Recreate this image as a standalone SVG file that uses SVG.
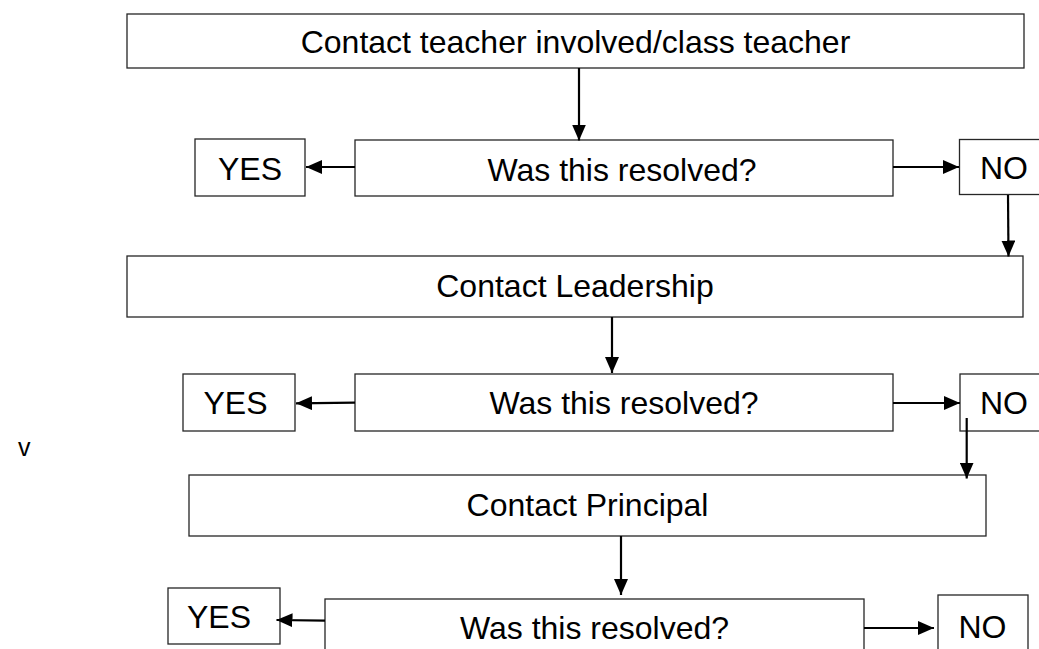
<svg xmlns="http://www.w3.org/2000/svg" width="1039" height="649" viewBox="0 0 1039 649">
<style>
.box{fill:#fff;stroke:#262626;stroke-width:1.3}
.t{font-family:"Liberation Sans",Arial,sans-serif;font-size:32px;fill:#000;text-anchor:middle}
.c{stroke:#000;stroke-width:2.2;fill:none;marker-end:url(#ah)}
</style>
<defs>
<marker id="ah" viewBox="0 0 16 14" refX="16" refY="7" markerWidth="16" markerHeight="14" orient="auto" markerUnits="userSpaceOnUse">
<path d="M0,0 L16,7 L0,14 Z" fill="#000"/>
</marker>
</defs>
<rect width="1039" height="649" fill="#fff"/>
<g id="n-teacher"><rect class="box" x="127" y="14" width="897" height="54"/><text class="t" x="575.5" y="53">Contact teacher involved/class teacher</text></g>
<g id="n-q1"><rect class="box" x="355" y="140" width="538" height="56"/><text class="t" x="622" y="181">Was this resolved?</text></g>
<g id="n-yes1"><rect class="box" x="195" y="139" width="110" height="57"/><text class="t" x="250" y="180">YES</text></g>
<g id="n-no1"><rect class="box" x="959.5" y="139.5" width="100" height="55"/><text class="t" x="1004" y="179">NO</text></g>
<g id="n-leadership"><rect class="box" x="127" y="256" width="896" height="61"/><text class="t" x="575" y="297">Contact Leadership</text></g>
<g id="n-q2"><rect class="box" x="355" y="374" width="538" height="57"/><text class="t" x="624" y="414">Was this resolved?</text></g>
<g id="n-yes2"><rect class="box" x="183" y="374" width="112" height="57"/><text class="t" x="235.5" y="414">YES</text></g>
<g id="n-no2"><rect class="box" x="960" y="374" width="100" height="57"/><text class="t" x="1004" y="414">NO</text></g>
<g id="n-v"><text x="18" y="456" font-family="Liberation Sans,Arial,sans-serif" font-size="25" fill="#000">v</text></g>
<g id="n-principal"><rect class="box" x="189" y="475" width="797" height="61"/><text class="t" x="587.5" y="516">Contact Principal</text></g>
<g id="n-q3"><rect class="box" x="325" y="599" width="539" height="70"/><text class="t" x="594.5" y="639">Was this resolved?</text></g>
<g id="n-yes3"><rect class="box" x="168" y="588" width="112" height="56"/><text class="t" x="219" y="628">YES</text></g>
<g id="n-no3"><rect class="box" x="938" y="595" width="90" height="70"/><text class="t" x="982.5" y="638">NO</text></g>
<g id="connectors">
<line class="c" x1="579" y1="68" x2="579" y2="140.5"/>
<line class="c" x1="355" y1="167" x2="306" y2="167"/>
<line class="c" x1="893" y1="167" x2="959" y2="167"/>
<line class="c" x1="1008" y1="195" x2="1008.5" y2="256.5"/>
<line class="c" x1="612" y1="317" x2="612" y2="373"/>
<line class="c" x1="355" y1="402.7" x2="296" y2="403.3"/>
<line class="c" x1="893" y1="403" x2="960" y2="403"/>
<line class="c" x1="966.7" y1="418" x2="966.7" y2="478.5"/>
<line class="c" x1="621" y1="536" x2="621" y2="595"/>
<line class="c" x1="325" y1="620.7" x2="276.5" y2="620"/>
<line class="c" x1="864" y1="628" x2="934" y2="628"/>
</g>
</svg>
